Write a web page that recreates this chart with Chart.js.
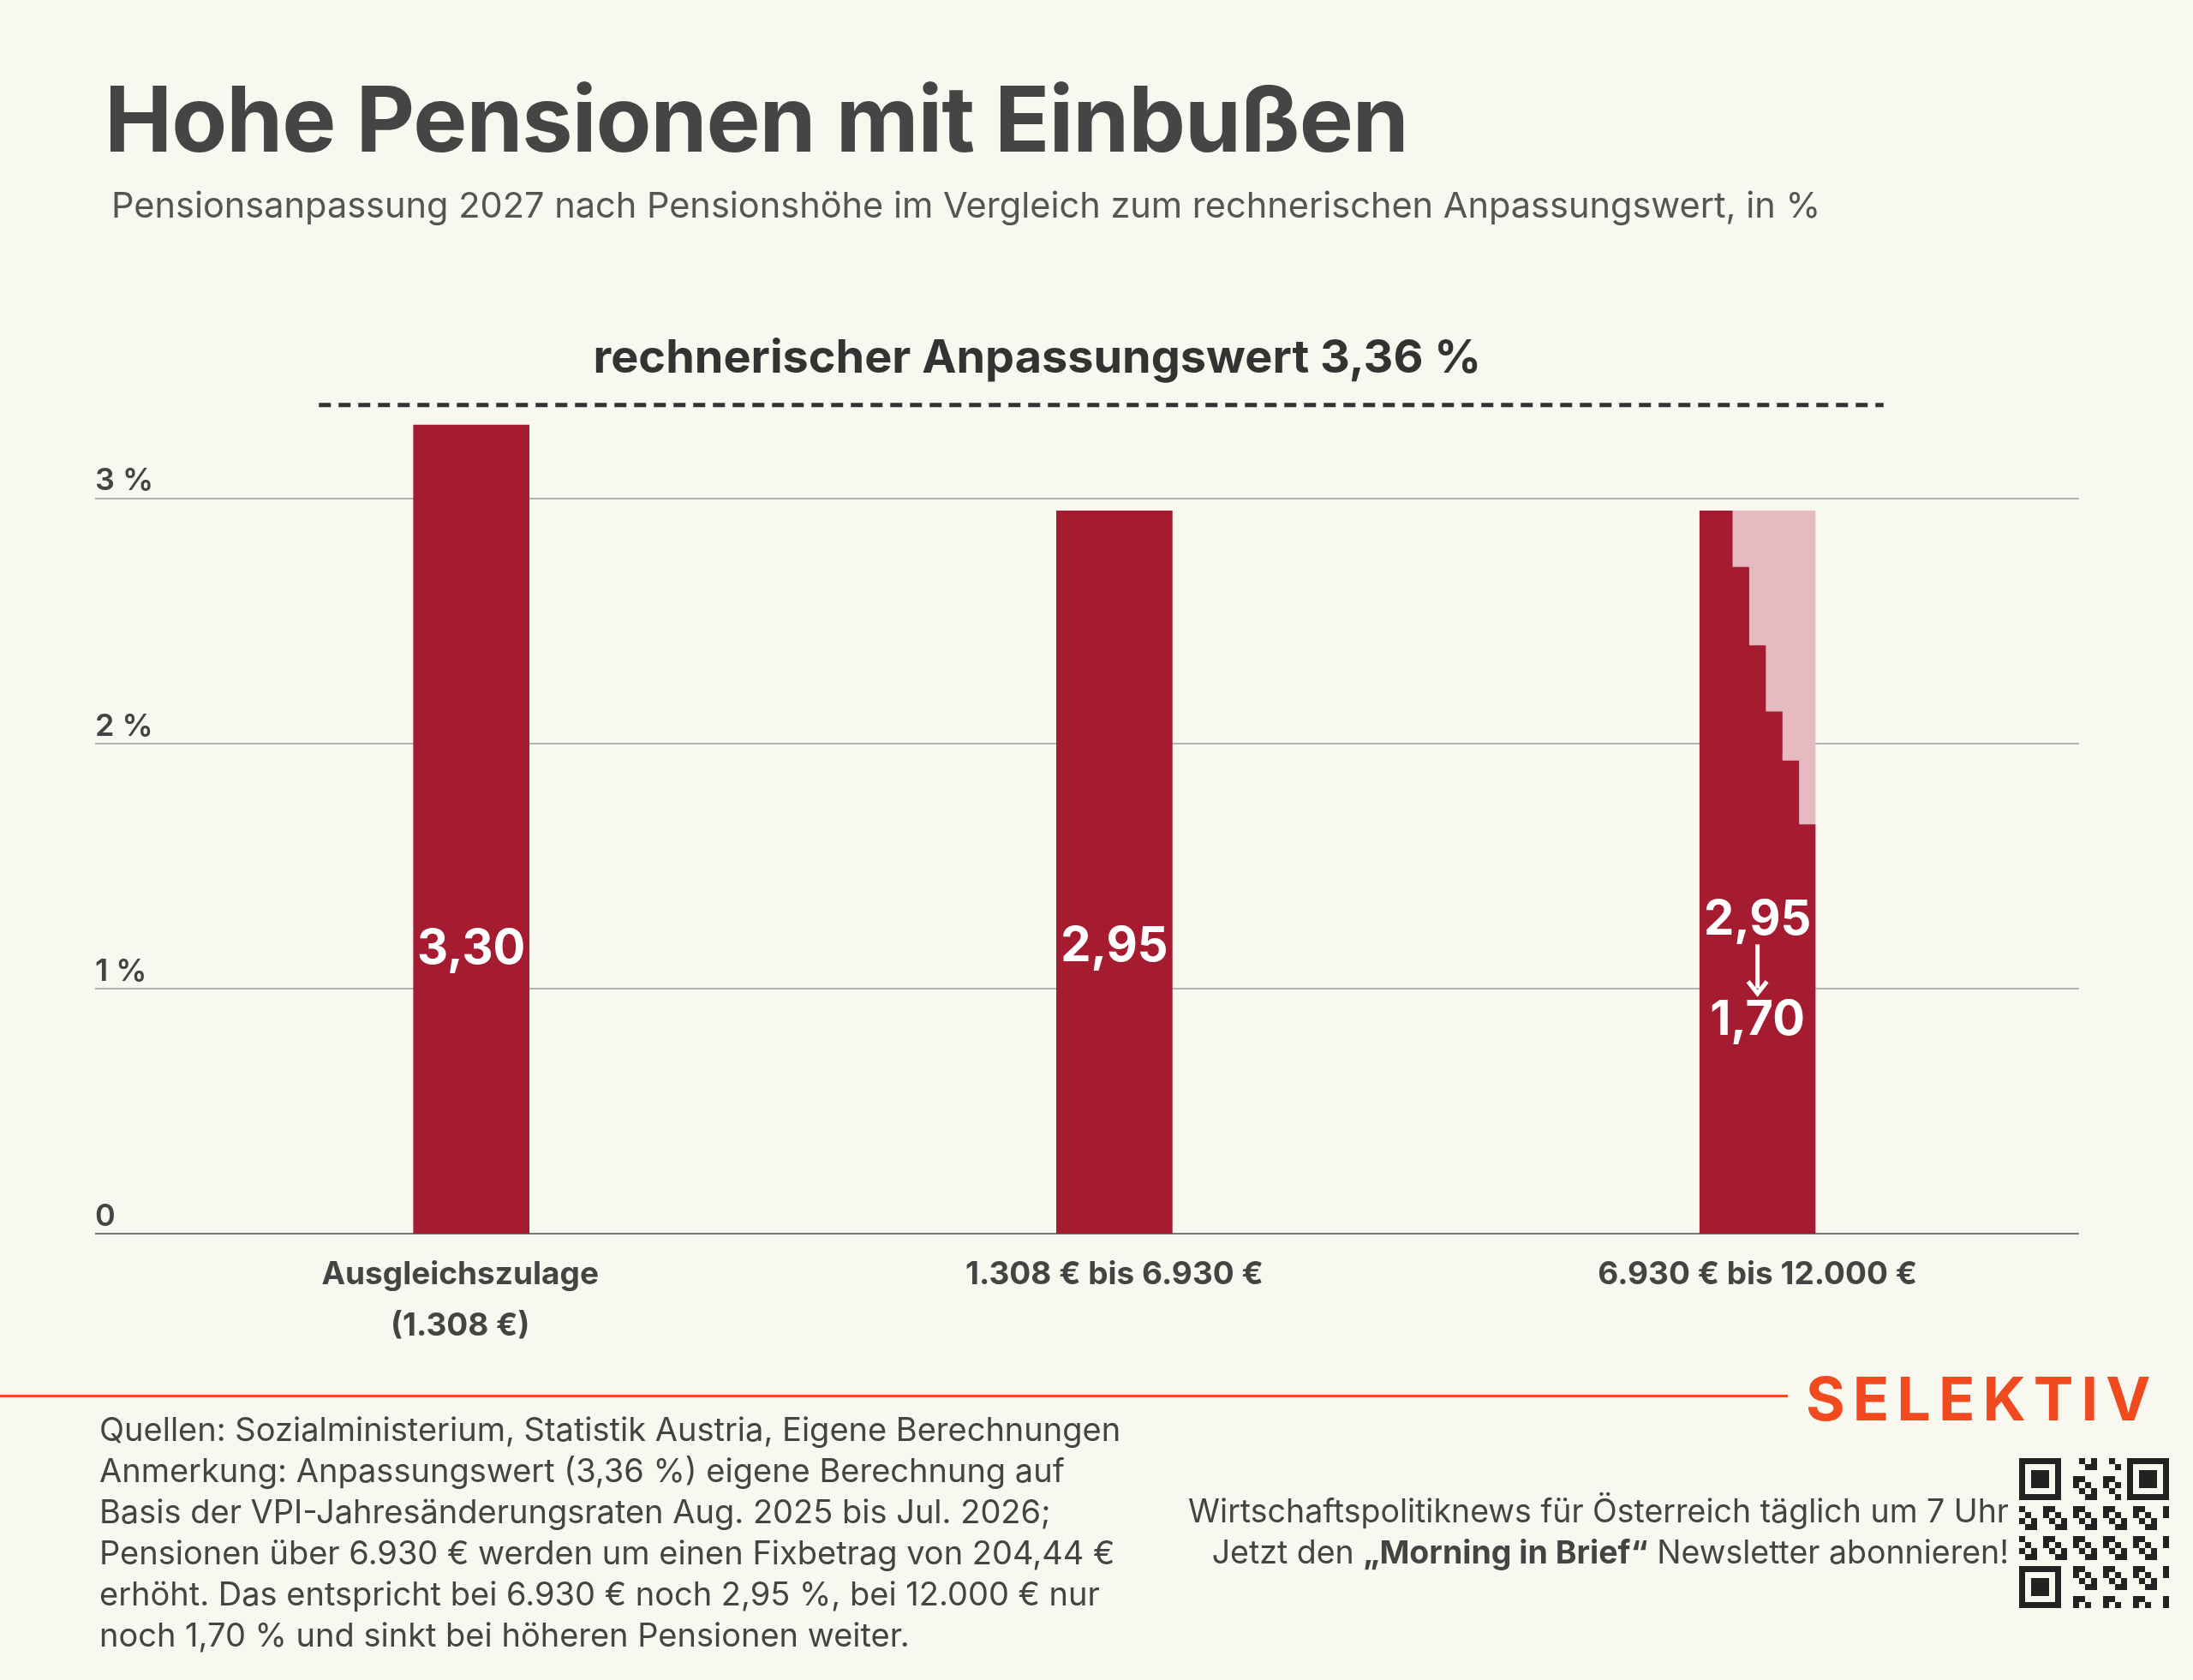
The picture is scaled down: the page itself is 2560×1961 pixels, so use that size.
<!DOCTYPE html>
<html><head><meta charset="utf-8">
<script src="https://cdn.jsdelivr.net/npm/chart.js@4"></script>
<style>
body{margin:0;background:#f8f7f0;font-family:Inter,"Open Sans",sans-serif;color:#444;}
#wrap{position:relative;width:2560px;height:1961px;overflow:hidden;}
canvas{position:absolute;left:0;top:0;}
.t{position:absolute;white-space:nowrap;}
#title{left:122px;top:74px;font-size:106px;font-weight:700;color:#454545;letter-spacing:-1px;}
#sub{left:130px;top:214px;font-size:41.5px;color:#555;}
#line{position:absolute;left:0;top:1628px;width:2087px;height:3px;background:#f04a1e;}
#logo{left:2108px;top:1590px;font-size:70px;font-weight:700;color:#f04a1e;letter-spacing:9px;}
#foot{left:116px;top:1644px;font-size:38px;line-height:48px;color:#444;}
#promo{right:215px;top:1740px;font-size:37.5px;line-height:48px;text-align:right;color:#444;}
#qr{position:absolute;left:2357px;top:1702px;width:178px;height:176px;}
</style></head>
<body><div id="wrap">
<canvas id="c" width="2560" height="1961"></canvas>
<div class="t" id="title">Hohe Pensionen mit Einbußen</div>
<div class="t" id="sub">Pensionsanpassung 2027 nach Pensionshöhe im Vergleich zum rechnerischen Anpassungswert, in %</div>
<div id="line"></div>
<div class="t" id="logo">SELEKTIV</div>
<div class="t" id="foot">Quellen: Sozialministerium, Statistik Austria, Eigene Berechnungen<br>Anmerkung: Anpassungswert (3,36 %) eigene Berechnung auf<br>Basis der VPI-Jahresänderungsraten Aug. 2025 bis Jul. 2026;<br>Pensionen über 6.930 € werden um einen Fixbetrag von 204,44 €<br>erhöht. Das entspricht bei 6.930 € noch 2,95 %, bei 12.000 € nur<br>noch 1,70 % und sinkt bei höheren Pensionen weiter.</div>
<div class="t" id="promo">Wirtschaftspolitiknews für Österreich täglich um 7 Uhr<br>Jetzt den <b>„Morning in Brief“</b> Newsletter abonnieren!</div>
<canvas id="qr" width="178" height="176"></canvas>
</div>
<script>
// ---------- data ----------
const categories = [["Ausgleichszulage", "(1.308 €)"], ["1.308 € bis 6.930 €"], ["6.930 € bis 12.000 €"]];
const values = [3.30, 2.95, 2.95];
const valueLabels = ["3,30", "2,95", "2,95"];
const reductionSteps = [2.95, 2.72, 2.40, 2.13, 1.93, 1.67]; // staircase in third bar
const stepUnits = [2, 1, 1, 1, 1, 1];
const endLabel = "1,70";
const referenceValue = 3.36;
const referenceLabel = "rechnerischer Anpassungswert 3,36 %";
const yTicks = [0, 1, 2, 3];
const yTickLabels = ["0", "1 %", "2 %", "3 %"];

const RED = "#a51c30", PINK = "#e5bac0";
const BAR_W = 0.181;

// each bar as a filled flat line on a linear x axis
const datasets = [];
values.forEach((v, i) => {
    datasets.push({
        data: [{x: i - BAR_W / 2, y: v}, {x: i + BAR_W / 2, y: v}],
        borderWidth: 0, pointRadius: 0, fill: "origin",
        backgroundColor: i === 2 ? PINK : RED, order: 3
    });
});
// staircase of the third bar
const totalUnits = stepUnits.reduce((a, b) => a + b, 0);
const stair = [];
let xs = 2 - BAR_W / 2;
reductionSteps.forEach((v, k) => {
    stair.push({x: xs, y: v});
    xs += BAR_W * stepUnits[k] / totalUnits;
});
stair.push({x: xs, y: reductionSteps[reductionSteps.length - 1]});
datasets.push({data: stair, stepped: "before", borderWidth: 0, pointRadius: 0,
    fill: "origin", backgroundColor: RED, order: 2});
// reference dashed line (drawn slightly above the value, as in the original)
datasets.push({data: [{x: -0.237, y: referenceValue + 0.02}, {x: 2.196, y: referenceValue + 0.02}], borderColor: "#333",
    borderWidth: 5, borderDash: [14, 9], pointRadius: 0, fill: false, order: 1});

const overlay = {
    id: "overlay",
    afterDraw(chart) {
        const {ctx, scales: {x, y}, chartArea} = chart;
        ctx.save();
        ctx.fillStyle = "#444";
        ctx.font = "600 36px Inter";
        ctx.textAlign = "left"; ctx.textBaseline = "bottom";
        yTicks.forEach((t, i) => ctx.fillText(yTickLabels[i], chartArea.left, y.getPixelForValue(t) - 2));
        // reference label
        ctx.font = "700 54px Inter"; ctx.textAlign = "center"; ctx.textBaseline = "middle";
        ctx.fillStyle = "#333";
        ctx.fillText(referenceLabel, x.getPixelForValue(0.88), y.getPixelForValue(3.57));
        // categories
        ctx.font = "700 37px Inter"; ctx.fillStyle = "#444"; ctx.textBaseline = "middle";
        categories.forEach((lines, i) => lines.forEach((l, j) =>
            ctx.fillText(l, x.getPixelForValue(i) - (i === 0 ? 13 : 0), chartArea.bottom + 48 + j * 60)));
        // value labels
        ctx.fillStyle = "#fff"; ctx.font = "700 56px Inter";
        ctx.fillText(valueLabels[0], x.getPixelForValue(0), y.getPixelForValue(1.16));
        ctx.fillText(valueLabels[1], x.getPixelForValue(1), y.getPixelForValue(1.17));
        const cx = x.getPixelForValue(2);
        ctx.fillText(valueLabels[2], cx, y.getPixelForValue(1.28));
        ctx.fillText(endLabel, cx, y.getPixelForValue(0.87));
        // arrow
        const a0 = y.getPixelForValue(1.18), a1 = y.getPixelForValue(0.98);
        ctx.strokeStyle = "#fff"; ctx.lineWidth = 5;
        ctx.beginPath(); ctx.moveTo(cx, a0); ctx.lineTo(cx, a1 - 6); ctx.stroke();
        ctx.beginPath(); ctx.moveTo(cx - 11, a1 - 14); ctx.lineTo(cx, a1); ctx.lineTo(cx + 11, a1 - 14); ctx.stroke();
        ctx.restore();
    }
};

new Chart(document.getElementById("c"), {
    type: "line",
    data: {datasets},
    plugins: [overlay],
    options: {
        responsive: false, animation: false,
        layout: {padding: {left: 111, right: 133, top: 367, bottom: 521}},
        plugins: {legend: {display: false}, tooltip: {enabled: false}},
        scales: {
            x: {type: "linear", min: -0.585, max: 2.5, display: false},
            y: {min: 0, max: 3.75, afterBuildTicks: s => { s.ticks = yTicks.map(v => ({value: v})); },
                ticks: {display: false}, border: {display: false},
                grid: {color: c => c.tick.value === 0 ? "#777" : "#b5b5b0", lineWidth: 2, drawTicks: false}}
        }
    }
});

// QR-like block
(function () {
    const q = document.getElementById("qr").getContext("2d");
    const n = 25, s = 7;
    q.fillStyle = "#222";
    const finder = (cx, cy) => {
        q.fillRect(cx * s, cy * s, 7 * s, 7 * s);
        q.clearRect((cx + 1) * s, (cy + 1) * s, 5 * s, 5 * s);
        q.fillRect((cx + 2) * s, (cy + 2) * s, 3 * s, 3 * s);
    };
    finder(0, 0); finder(18, 0); finder(0, 18);
    for (let r = 0; r < n; r++) for (let c = 0; c < n; c++) {
        if ((r < 8 && c < 8) || (r < 8 && c > 16) || (r > 16 && c < 8)) continue;
        if (((r * 7 + c * 13 + r * c) % 5) < 2) q.fillRect(c * s, r * s, s, s);
    }
})();
</script>
</body></html>
